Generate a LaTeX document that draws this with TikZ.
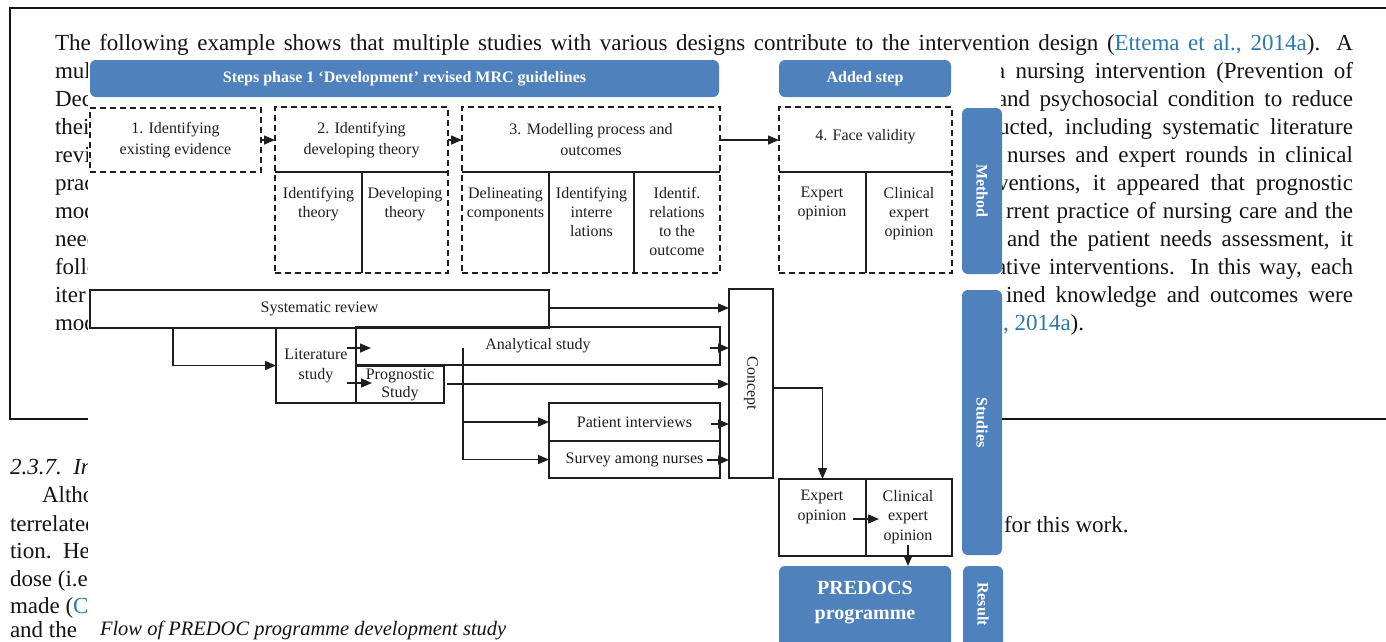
\documentclass[tikz,border=0pt]{standalone}
\usepackage{fontspec}
\setmainfont{Liberation Serif}
\usepackage{graphicx}
\usetikzlibrary{arrows.meta}
\definecolor{bar}{RGB}{79,129,189}
\definecolor{link}{RGB}{42,122,176}
\definecolor{ink}{RGB}{30,30,30}
\definecolor{pageink}{RGB}{20,20,20}
\tikzset{
  body/.style={anchor=base west, inner sep=0pt, outer sep=0pt, text=pageink, font=\fontsize{23}{27}\selectfont},
  bodyr/.style={anchor=base east, inner sep=0pt, outer sep=0pt, text=pageink, font=\fontsize{23}{27}\selectfont},
  bluebar/.style={fill=bar, draw=none, rounded corners=6pt, text=white, font=\fontsize{16}{19}\selectfont\bfseries, inner sep=0pt, outer sep=0pt},
  dbox/.style={draw=ink, line width=2pt, dash pattern=on 6pt off 4pt, inner sep=0pt, outer sep=0pt},
  sbox/.style={draw=ink, line width=2pt, inner sep=0pt, outer sep=0pt, text=ink, font=\fontsize{16}{20}\selectfont, align=center},
  lbl/.style={text=ink, font=\fontsize{16}{19}\selectfont, align=center, inner sep=0pt},
  ttl/.style={text=ink, font=\fontsize{16}{21}\selectfont, align=center, inner sep=0pt},
  divline/.style={draw=ink, line width=2pt},
  con/.style={draw=ink, line width=1.5pt},
  arr/.style={con, -{Triangle[length=11pt,width=9pt]}},
  pageline/.style={draw=pageink, line width=1.5pt},
}
\begin{document}
\begin{tikzpicture}[x=1pt,y=-1pt]
\useasboundingbox (0,0) rectangle (1386,641);
\fill[white] (0,0) rectangle (1386,641);
% ---------------- page ----------------
\draw[pageline] (1386,8) -- (10,8) -- (10,419) -- (1386,419);
\node[body] (l0) at (55,50) {\makebox[1298pt][s]{The following example shows that multiple studies with various designs contribute to the intervention design (\textcolor{link}{Ettema et al., 2014a}). A}};
\node[body] (la1) at (55,78) {mul};
\node[body] (la2) at (55,106) {Dec};
\node[body] (la3) at (55,134) {thei};
\node[body] (la4) at (55,162) {revi};
\node[body] (la5) at (55,190) {prac};
\node[body] (la6) at (55,218) {mod};
\node[body] (la7) at (55,246) {need};
\node[body] (la8) at (55,274) {follo};
\node[body] (la9) at (55,302) {iter};
\node[body] (la10) at (55,330) {mod};
\node[bodyr] (lb1) at (1353,78) {\makebox[358pt][s]{a nursing intervention (Prevention of}};
\node[bodyr] (lb2) at (1353,106) {\makebox[356pt][s]{and psychosocial condition to reduce}};
\node[bodyr] (lb3) at (1353,134) {\makebox[355pt][s]{ucted, including systematic literature}};
\node[bodyr] (lb4) at (1353,162) {\makebox[346pt][s]{nurses and expert rounds in clinical}};
\node[bodyr] (lb5) at (1353,190) {\makebox[356pt][s]{ventions, it appeared that prognostic}};
\node[bodyr] (lb6) at (1353,218) {\makebox[347pt][s]{rrent practice of nursing care and the}};
\node[bodyr] (lb7) at (1353,246) {\makebox[346pt][s]{and the patient needs assessment, it}};
\node[bodyr] (lb8) at (1353,274) {\makebox[357pt][s]{ative interventions. In this way, each}};
\node[bodyr] (lb9) at (1353,302) {\makebox[347pt][s]{ined knowledge and outcomes were}};
\node[body] (lb10) at (1003,330) {\textcolor{link}{, 2014a}).};
\node[body] (lc0) at (10,474) {\textit{2.3.7.\ \ In}};
\node[body] (lc1) at (42,502) {Althou};
\node[body] (lc2) at (10,531) {terrelated};
\node[body] (lc3) at (10,558) {tion.\ \ Her};
\node[body] (lc4) at (10,586) {dose (i.e.};
\node[body] (lc5) at (10,613) {made (\textcolor{link}{Co}};
\node[body] (lc6) at (10,637) {and the};
\node[body] (lr1) at (1004,532) {for this work.};
% ---------------- figure (pasted over the page) ----------------
\fill[white] (88,57) rectangle (1001,641);
\node[body, font=\fontsize{20.5}{24}\selectfont\itshape] (caption) at (100,635) {Flow of PREDOC programme development study};
% headers
\node[bluebar, minimum width=629pt, minimum height=37pt] (hdrA) at (404.5,78.5) {Steps phase 1 ‘Development’ revised MRC guidelines};
\node[bluebar, minimum width=172pt, minimum height=37pt] (hdrB) at (865,78.5) {Added step};
% step boxes
\node[dbox, minimum width=171pt, minimum height=64pt] (s1) at (175.5,140) {};
\node[ttl] (s1t) at (175.5,140) {1. Identifying\\existing evidence};
\node[dbox, minimum width=173pt, minimum height=166pt] (s2) at (361.5,190) {};
\node[ttl] (s2t) at (361.5,140) {2. Identifying\\developing theory};
\draw[divline] (275,172) -- (448,172);
\draw[divline] (362,172) -- (362,273);
\node[lbl, anchor=north] (s2a) at (318.5,187) {Identifying\\theory};
\node[lbl, anchor=north] (s2b) at (405,187) {Developing\\theory};
\node[dbox, minimum width=258pt, minimum height=166pt] (s3) at (591,190) {};
\node[ttl] (s3t) at (591,140) {3. Modelling process and\\outcomes};
\draw[divline] (462,172) -- (720,172);
\draw[divline] (549,172) -- (549,273);
\draw[divline] (634,172) -- (634,273);
\node[lbl, anchor=north] (s3a) at (505.5,187) {Delineating\\components};
\node[lbl, anchor=north] (s3b) at (591.5,187) {Identifying\\interre\\lations};
\node[lbl, anchor=north] (s3c) at (677,187) {Identif.\\relations\\to the\\outcome};
\node[dbox, minimum width=173pt, minimum height=166pt] (s4) at (865.5,190) {};
\node[ttl] (s4t) at (865.5,137) {4. Face validity};
\draw[divline] (779,172) -- (952,172);
\draw[divline] (866,172) -- (866,273);
\node[lbl, anchor=north] (s4a) at (822,187) {Expert\\opinion};
\node[lbl, anchor=north] (s4b) at (909,187) {Clinical\\expert\\opinion};
\draw[arr] (s1.east |- s1t.center) -- (s2.west |- s1t.center);
\draw[arr] (s2.east |- s2t.center) -- (s3.west |- s2t.center);
\draw[arr] (s3.east |- s3t.center) -- (s4.west |- s3t.center);
% side bars
\node[bluebar, minimum width=40pt, minimum height=166pt] (method) at (982,191) {\rotatebox{-90}{Method}};
\node[bluebar, minimum width=40pt, minimum height=265pt] (studies) at (982,422.5) {\rotatebox{-90}{Studies}};
\node[bluebar, minimum width=40pt, minimum height=86pt] (resultbar) at (983,609) {};
\node[text=white, font=\fontsize{16}{19}\selectfont\bfseries, inner sep=0pt] (result) at (983,604) {\rotatebox{-90}{Result}};
% studies
\node[sbox, minimum width=459pt, minimum height=38pt] (sr) at (319.5,309) {Systematic review};
\node[sbox, minimum width=44pt, minimum height=189pt] (concept) at (751,383.5) {\rotatebox{-90}{Concept}};
\node[sbox, minimum width=80pt, minimum height=75pt] (lit) at (316,365.5) {Literature\\study};
\node[sbox, minimum width=364pt, minimum height=38pt] (anal) at (538,346) {Analytical study};
\node[sbox, minimum width=88pt, minimum height=37pt, font=\fontsize{16}{18}\selectfont] (prog) at (400,384.5) {Prognostic\\Study};
\node[sbox, minimum width=171pt, minimum height=38pt] (pat) at (634.5,422) {Patient interviews};
\node[sbox, minimum width=171pt, minimum height=37pt] (sur) at (634.5,459.5) {Survey among nurses};
\node[sbox, minimum width=87pt, minimum height=77pt] (eo) at (822.5,517.5) {};
\node[sbox, minimum width=86pt, minimum height=77pt] (ceo) at (909,517.5) {};
\node[lbl, anchor=north, font=\fontsize{16}{20}\selectfont] (eot) at (822,490) {Expert\\opinion};
\node[lbl, anchor=north, font=\fontsize{16}{19.5}\selectfont] (ceot) at (908,490) {Clinical\\expert\\opinion};
\node[bluebar, minimum width=172pt, minimum height=86pt] (predocsbar) at (865,609) {};
\node[text=white, font=\fontsize{20}{25}\selectfont\bfseries, align=center, inner sep=0pt] (predocs) at (865,603) {PREDOCS\\programme};
% connectors
\coordinate (srb) at (173,328);
\coordinate (litA) at (347,348);
\coordinate (litB) at (347,383);
\coordinate (analR) at (710,348);
\coordinate (progR) at (447,384);
\coordinate (vt) at (463,348);
\coordinate (patR) at (711,424);
\coordinate (surR) at (707,460);
\coordinate (conR) at (773,388);
\coordinate (eoR) at (853,519);
\coordinate (ceoB) at (908,545);
\draw[arr] (sr.east |- 0,308) -- (concept.west |- 0,308);
\draw[arr] (srb) |- (lit.west);
\draw[arr] (litA) -- (anal.west |- litA) -- ++(15,0);
\draw[arr] (litB) -- ++(25,0);
\draw[arr] (analR) -- (concept.west |- analR);
\draw[arr] (progR) -- (concept.west |- progR);
\draw[arr] (vt) |- (pat.west);
\draw[arr] (vt) |- (sur.west);
\draw[arr] (patR) -- (concept.west |- patR);
\draw[arr] (surR) -- (concept.west |- surR);
\draw[arr] (conR) -| (eo.north);
\draw[arr] (eoR) -- ++(26,0);
\draw[arr] (ceoB) -- (predocsbar.north -| ceoB);
\end{tikzpicture}
\end{document}
